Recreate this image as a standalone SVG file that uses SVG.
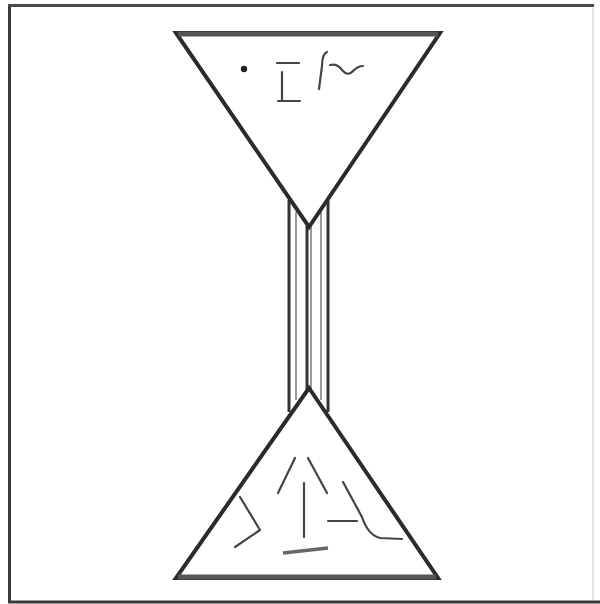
<svg xmlns="http://www.w3.org/2000/svg" width="600" height="604" viewBox="0 0 600 604">
<style>
.s{fill:none;stroke:#2b2b2b;stroke-width:4;stroke-linejoin:miter}
.t{fill:none;stroke:#333;stroke-width:3}
.g{fill:none;stroke:#9a9a9a;stroke-width:2}
.k{fill:none;stroke:#444;stroke-width:2.2;stroke-linecap:round;stroke-linejoin:round}
</style>
<rect width="600" height="604" fill="#fff"/>
<g id="frame">
<line x1="9.5" y1="5" x2="9.5" y2="603" stroke="#3a3a3a" stroke-width="3"/>
<line x1="8" y1="5.5" x2="594" y2="5.5" stroke="#4a4a4a" stroke-width="3"/>
<line x1="8" y1="602" x2="600" y2="602" stroke="#3a3a3a" stroke-width="3"/>
<line x1="593" y1="8" x2="593" y2="600" stroke="#e2e2e2" stroke-width="2"/>
</g>
<g id="tube">
<line class="t" x1="289" y1="200" x2="289" y2="412"/>
<line class="t" x1="328" y1="200" x2="328" y2="412"/>
<line class="g" x1="296" y1="212" x2="296" y2="400"/>
<line class="g" x1="321" y1="212" x2="321" y2="400"/>
<line class="t" x1="307" y1="226" x2="307" y2="390"/>
<line class="g" x1="311" y1="226" x2="311" y2="390"/>
</g>
<g id="top-triangle">
<polygon class="s" points="176,33 440,33 309,227"/>
<line x1="178" y1="34" x2="438" y2="34" stroke="#555" stroke-width="5"/>
<circle cx="244" cy="69" r="3.2" fill="#222"/>
<path class="k" d="M277,63 H299 M282,72 V100 M278,101 H300"/>
<path class="k" d="M327,52 Q322,54 322,66 L319,89"/>
<path class="k" d="M330,65 Q337,63 342,70 Q348,77 353,71 Q358,66 363,66"/>
</g>
<g id="bottom-triangle">
<polygon class="s" points="309,388 438,578 176,578"/>
<line x1="178" y1="577" x2="436" y2="577" stroke="#555" stroke-width="5"/>
<path class="k" d="M278,493 L295,458 M308,458 L327,493"/>
<line class="k" x1="304" y1="483" x2="304" y2="537"/>
<line x1="283" y1="553" x2="328" y2="548" stroke="#666" stroke-width="3.5"/>
<path class="k" d="M240,497 L260,530 L235,547"/>
<path class="k" d="M328,521 H357"/>
<path class="k" d="M343,482 L362,517 Q368,535 380,538 L402,539"/>
</g>
</svg>
